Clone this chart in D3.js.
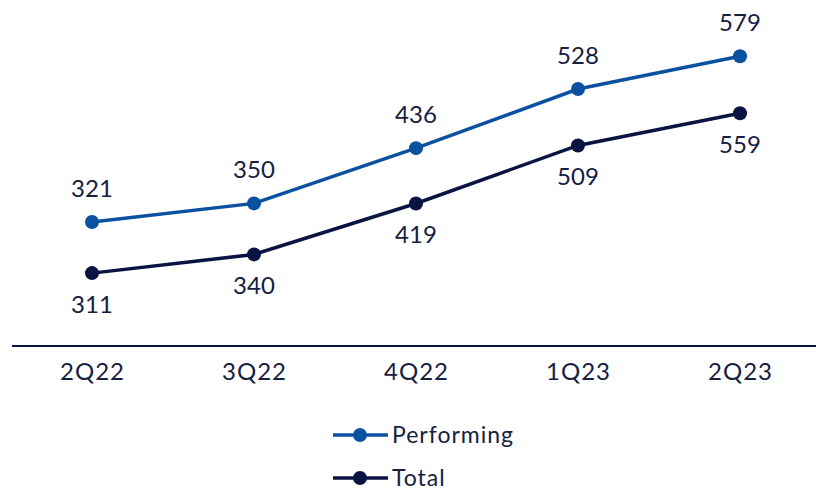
<!DOCTYPE html>
<html>
<head>
<meta charset="utf-8">
<script src="https://cdn.jsdelivr.net/npm/d3@7"></script>
<style>
  html, body { margin: 0; padding: 0; background: #ffffff; }
  svg { display: block; font-family: "Lato", "Open Sans", sans-serif; }
</style>
</head>
<body>
<svg id="chart" width="816" height="490"></svg>
<script>
// Quarterly volumes
const quarters = ["2Q22", "3Q22", "4Q22", "1Q23", "2Q23"];
const performing = [321, 350, 436, 528, 579];
const total = [311, 340, 419, 509, 559];
const seriesNames = ["Performing", "Total"];

const colPerf = "#0a52a0";
const colTotal = "#0a1442";
const textCol = "#16203f";

const svg = d3.select("#chart");
const W = 816;
const plotTop = 10, plotBottom = 346;

const x = d3.scalePoint().domain(quarters).range([11, 821]).padding(0.5);
// Each series sits on its own value axis
const yPerf = d3.scaleLinear().domain([128, 651]).range([plotBottom, plotTop]);
const yTotal = d3.scaleLinear().domain([198, 719]).range([plotBottom, plotTop]);

// Category axis
const xAxis = d3.axisBottom(x).tickSize(0).tickPadding(17);
const gx = svg.append("g").attr("transform", `translate(0,${plotBottom})`).call(xAxis);
gx.select(".domain").remove();
gx.selectAll("text").attr("font-size", 24).attr("fill", textCol)
  .attr("letter-spacing", 1)
  .attr("font-family", "Lato, 'Open Sans', sans-serif");
svg.append("line").attr("x1", 12).attr("x2", W).attr("y1", plotBottom).attr("y2", plotBottom)
  .attr("stroke", colTotal).attr("stroke-width", 2);

function drawSeries(values, y, color, labelAbove) {
  const pts = quarters.map((q, i) => ({ q, v: values[i] }));
  svg.append("path").datum(pts)
    .attr("fill", "none").attr("stroke", color).attr("stroke-width", 3.5)
    .attr("d", d3.line().x(d => x(d.q)).y(d => y(d.v)));
  svg.append("g").selectAll("circle").data(pts).join("circle")
    .attr("cx", d => x(d.q)).attr("cy", d => y(d.v)).attr("r", 7).attr("fill", color);
  svg.append("g").selectAll("text").data(pts).join("text")
    .attr("x", d => x(d.q))
    .attr("y", d => labelAbove ? y(d.v) - 25 : y(d.v) + 40)
    .attr("text-anchor", "middle").attr("font-size", 24).attr("fill", textCol)
    .text(d => d.v);
}

drawSeries(performing, yPerf, colPerf, true);
drawSeries(total, yTotal, colTotal, false);

// Legend
const legend = svg.append("g");
[colPerf, colTotal].forEach((c, i) => {
  const ly = 435 + i * 43;
  legend.append("line").attr("x1", 333).attr("x2", 388).attr("y1", ly).attr("y2", ly)
    .attr("stroke", c).attr("stroke-width", 3.5);
  legend.append("circle").attr("cx", 360).attr("cy", ly).attr("r", 7).attr("fill", c);
  legend.append("text").attr("x", 392).attr("y", ly + 8).attr("font-size", 23)
    .attr("letter-spacing", 1)
    .attr("fill", textCol).text(seriesNames[i]);
});
</script>
</body>
</html>
